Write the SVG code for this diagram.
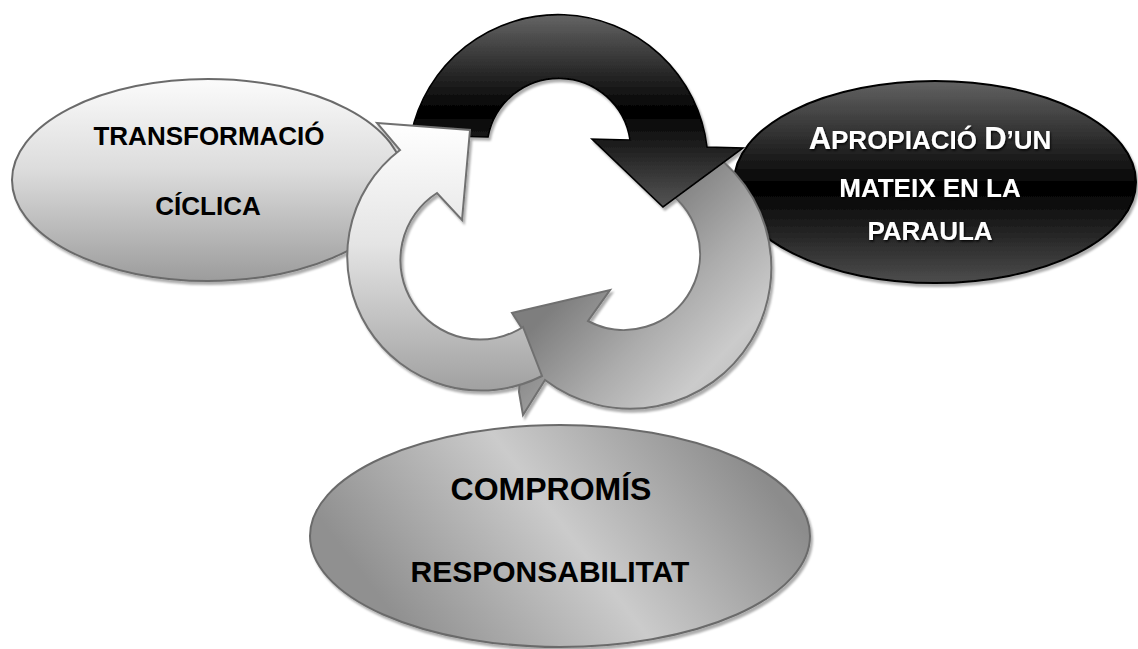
<svg xmlns="http://www.w3.org/2000/svg" width="1138" height="649" viewBox="0 0 1138 649">
<style>
.lbl{font-family:"Liberation Sans",Arial,sans-serif;font-weight:bold;text-anchor:middle}
.dark{fill:#000}
.light{fill:#fff}
.edge{stroke:#6b6b6b;stroke-width:2}
.arrow{stroke:#707070;stroke-width:2;stroke-linejoin:miter}
</style>
<defs>
<filter id="shadow" x="-10%" y="-10%" width="125%" height="125%">
<feDropShadow dx="2" dy="3" stdDeviation="1.2" flood-color="#000" flood-opacity="0.32"/>
</filter>
<filter id="tshadow" x="-10%" y="-30%" width="125%" height="160%">
<feDropShadow dx="1" dy="1.5" stdDeviation="1" flood-color="#000" flood-opacity="0.9"/>
</filter>
<linearGradient id="gLeft" gradientUnits="userSpaceOnUse" x1="0" y1="79" x2="0" y2="281">
<stop offset="0" stop-color="#fbfbfb"/><stop offset="0.45" stop-color="#dcdcdc"/><stop offset="1" stop-color="#9c9c9c"/>
</linearGradient>
<linearGradient id="gRight" gradientUnits="userSpaceOnUse" x1="0" y1="80" x2="0" y2="284">
<stop offset="0" stop-color="#636363"/><stop offset="0.53" stop-color="#000"/><stop offset="1" stop-color="#4e4e4e"/>
</linearGradient>
<linearGradient id="gBottom" gradientUnits="userSpaceOnUse" x1="720" y1="420" x2="420" y2="650">
<stop offset="0" stop-color="#8c8c8c"/><stop offset="0.5" stop-color="#cbcbcb"/><stop offset="1" stop-color="#909090"/>
</linearGradient>
<linearGradient id="gBlack" gradientUnits="userSpaceOnUse" x1="0" y1="13" x2="0" y2="210">
<stop offset="0" stop-color="#666"/><stop offset="0.5" stop-color="#000"/><stop offset="1" stop-color="#575757"/>
</linearGradient>
<linearGradient id="gWhite" gradientUnits="userSpaceOnUse" x1="0" y1="123" x2="0" y2="392">
<stop offset="0" stop-color="#fff"/><stop offset="0.45" stop-color="#e4e4e4"/><stop offset="1" stop-color="#a0a0a0"/>
</linearGradient>
<linearGradient id="gGray" gradientUnits="userSpaceOnUse" x1="540" y1="230" x2="720" y2="400">
<stop offset="0.25" stop-color="#7e7e7e"/><stop offset="0.6" stop-color="#acacac"/><stop offset="0.88" stop-color="#cbcbcb"/><stop offset="1" stop-color="#c0c0c0"/>
</linearGradient>
</defs>

<g id="node-transformacio">
<ellipse cx="208" cy="180" rx="196" ry="101" fill="url(#gLeft)" class="edge" filter="url(#shadow)"/>
<text class="lbl dark" font-size="26"><tspan x="209" y="145">TRANSFORMACIÓ</tspan><tspan x="208" y="215">CÍCLICA</tspan></text>
</g>

<g id="node-apropiacio">
<ellipse cx="935" cy="182" rx="201" ry="101" fill="url(#gRight)" stroke="#000" stroke-width="2" filter="url(#shadow)"/>
<text class="lbl light" font-size="26" filter="url(#tshadow)"><tspan x="930" y="149"><tspan font-size="31">A</tspan>PROPIACIÓ <tspan font-size="31">D</tspan>’UN</tspan><tspan x="930" y="197">MATEIX EN LA</tspan><tspan x="930" y="240">PARAULA</tspan></text>
</g>

<g id="node-compromis">
<ellipse cx="560" cy="536" rx="250" ry="111" fill="url(#gBottom)" class="edge" filter="url(#shadow)"/>
<text class="lbl dark"><tspan x="551" y="500" font-size="32">COMPROMÍS</tspan><tspan x="550" y="582" font-size="30">RESPONSABILITAT</tspan></text>
</g>

<g id="connectors" filter="url(#shadow)">
<path id="arrow-gray" class="arrow" fill="url(#gGray)" d="M 545 380 L 523 415 L 519 392 L 523 330 L 512 313 L 610 290 L 588 321 A 76 76 0 1 0 660 187 L 690 140 A 141 141 0 1 1 545 380 Z"/>
<path id="arrow-black" fill="url(#gBlack)" stroke="#000" stroke-width="1.6" d="M 411 135 A 150 150 0 0 1 707 147 L 743 148 L 663 207 L 592 139 L 630 140 A 72 72 0 0 0 488 137 Z"/>
<path id="arrow-white" class="arrow" fill="url(#gWhite)" d="M 377 123 L 470 130 L 462 220 L 437 193 A 79 79 0 0 0 523 327 L 542 376 A 134 134 0 0 1 400 150 Z"/>
</g>
</svg>
